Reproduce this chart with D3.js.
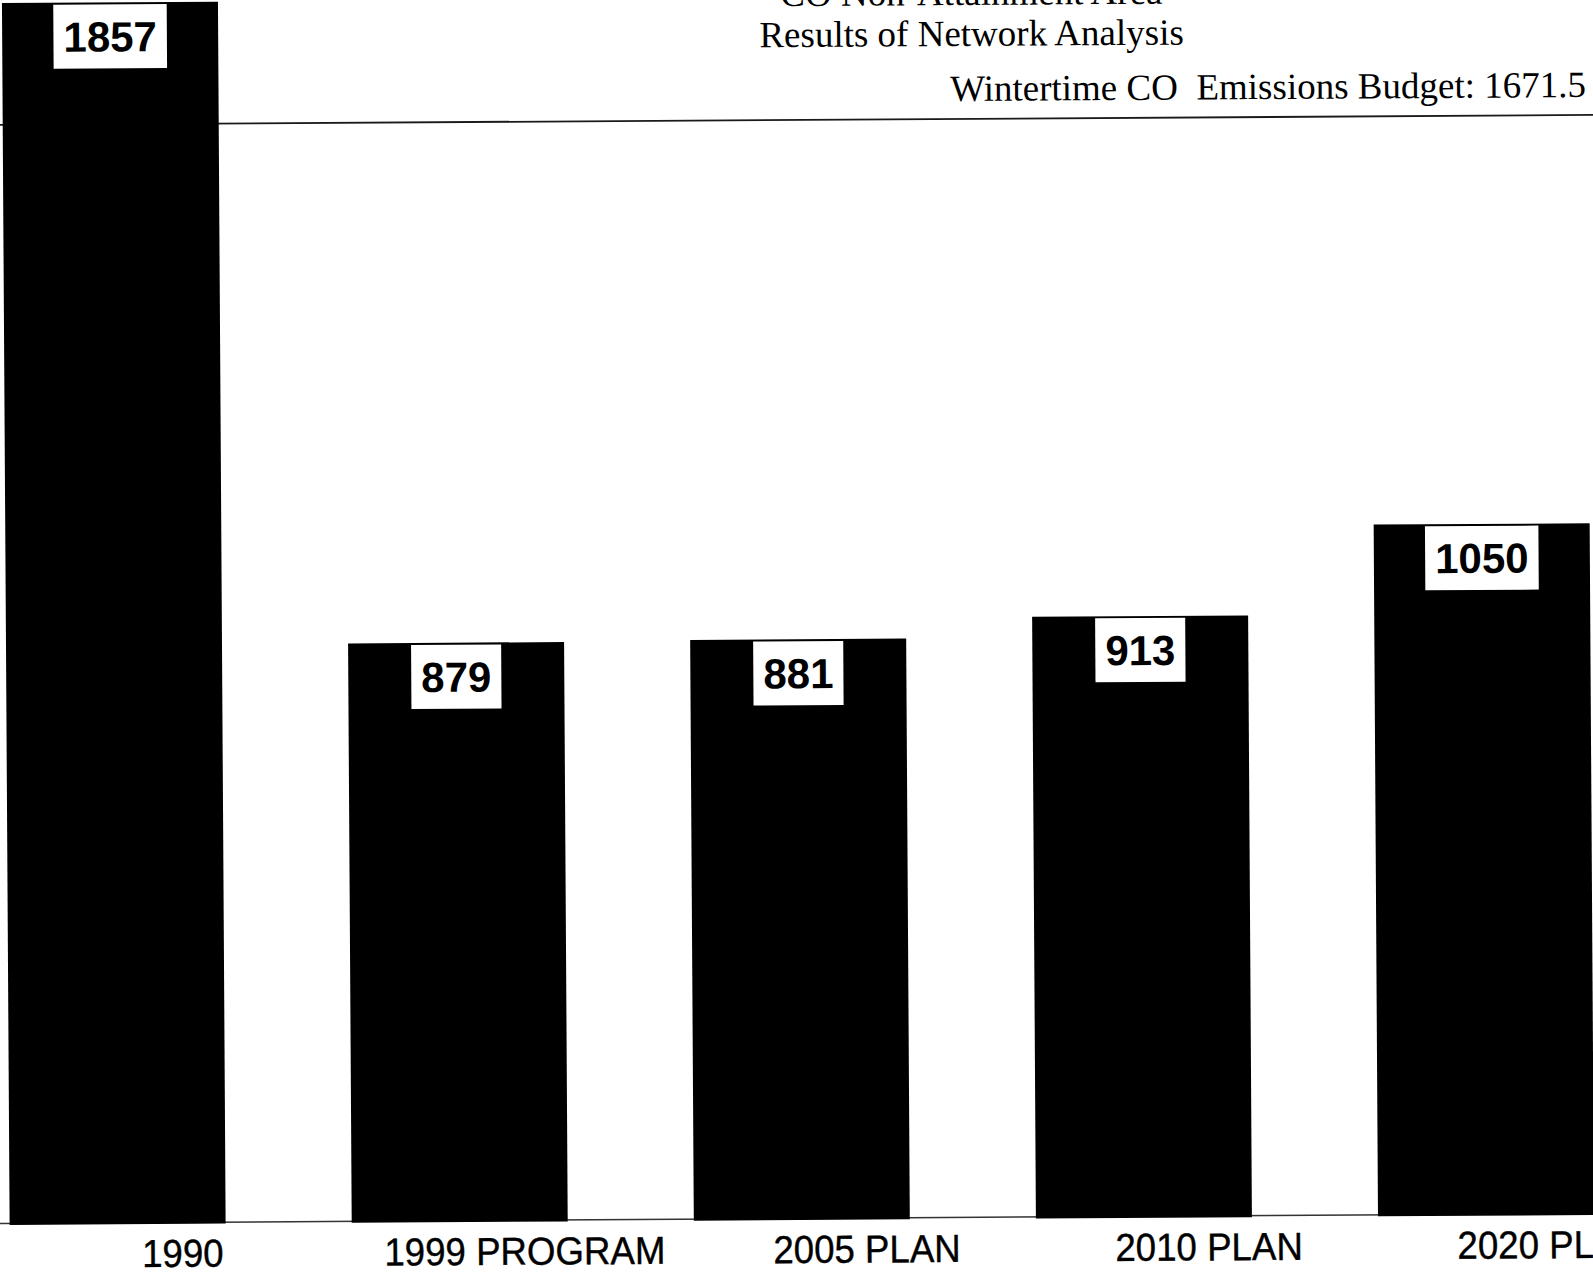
<!DOCTYPE html>
<html>
<head>
<meta charset="utf-8">
<script src="https://cdn.jsdelivr.net/npm/d3@7"></script>
<style>
  html, body { margin: 0; padding: 0; background: #fff; overflow: hidden; }
  svg { display: block; }
</style>
</head>
<body>
<svg id="chart" width="1593" height="1277"></svg>
<script>
// Wintertime CO emissions by scenario
const categories = ["1990", "1999 PROGRAM", "2005 PLAN", "2010 PLAN", "2020 PLAN"];
const emissions = [1857, 879, 881, 913, 1050];
const budgetValue = 1671.5;
const titleLines = ["CO Non-Attainment Area", "Results of Network Analysis"];
const budgetLabel = "Wintertime CO  Emissions Budget: 1671.5";

const W = 1593, H = 1277;
const baseY = 1218;

const svg = d3.select("#chart");
svg.append("rect").attr("width", W).attr("height", H).attr("fill", "#fff");

// the printed page sits slightly askew
const root = svg.append("g").attr("transform", `rotate(-0.36, 796, ${baseY})`);

const x = d3.scaleBand()
  .domain(categories)
  .range([9.6, 1594])
  .paddingInner(0.3686)
  .paddingOuter(0);

const y = d3.scaleLinear()
  .domain([0, 1000])
  .range([baseY, baseY - 656.9]);

const data = categories.map((c, i) => ({ cat: c, value: emissions[i] }));

// titles
const serif = "'Liberation Serif', 'Times New Roman', Times, serif";
root.selectAll("text.title")
  .data(titleLines)
  .join("text")
  .attr("class", "title")
  .attr("x", 979)
  .attr("y", (d, i) => 6 + i * 41)
  .attr("text-anchor", "middle")
  .attr("font-family", serif)
  .attr("font-size", 37)
  .attr("fill", "#000")
  .text(d => d);

// emissions budget reference line
const budgetY = y(budgetValue);
root.append("line")
  .attr("x1", 0).attr("x2", W + 20)
  .attr("y1", budgetY).attr("y2", budgetY)
  .attr("stroke", "#1a1a1a")
  .attr("stroke-width", 1.8);

root.append("text")
  .attr("x", 1593)
  .attr("y", budgetY - 18)
  .attr("text-anchor", "end")
  .attr("font-family", serif)
  .attr("font-size", 37)
  .attr("fill", "#000")
  .style("white-space", "pre")
  .attr("xml:space", "preserve")
  .text(budgetLabel);

// baseline
root.append("line")
  .attr("x1", 0).attr("x2", W + 20)
  .attr("y1", baseY + 0.5).attr("y2", baseY + 0.5)
  .attr("stroke", "#333")
  .attr("stroke-width", 1.5);

// bars
root.selectAll("rect.bar")
  .data(data)
  .join("rect")
  .attr("class", "bar")
  .attr("x", d => x(d.cat))
  .attr("width", x.bandwidth())
  .attr("y", d => y(d.value))
  .attr("height", d => y(0) - y(d.value) + 2)
  .attr("fill", "#000");

// value labels in white boxes
const sans = "'Liberation Sans', Arial, Helvetica, sans-serif";
const valueG = root.selectAll("g.val")
  .data(data)
  .join("g")
  .attr("class", "val")
  .attr("transform", d => `translate(${x(d.cat) + x.bandwidth() / 2}, ${y(d.value) + 2})`);

valueG.append("rect").attr("fill", "#fff");
const valueTexts = valueG.append("text")
  .attr("text-anchor", "middle")
  .attr("y", 47)
  .attr("font-family", sans)
  .attr("font-weight", "bold")
  .attr("font-size", 42)
  .attr("fill", "#000")
  .text(d => d3.format("d")(d.value));

valueTexts.each(function () {
  const w = this.getComputedTextLength() + 20;
  d3.select(this.previousSibling)
    .attr("x", -w / 2)
    .attr("width", w)
    .attr("y", 0)
    .attr("height", 64);
});

// category axis
const axis = root.append("g")
  .attr("transform", `translate(0, ${baseY})`)
  .call(d3.axisBottom(x).tickSize(0).tickPadding(0));
axis.select(".domain").remove();
axis.selectAll(".tick text")
  .attr("y", 45)
  .attr("dy", null)
  .attr("transform", "translate(65,0) scale(0.94,1)")
  .attr("font-family", sans)
  .attr("font-size", 39)
  .attr("stroke", "#000")
  .attr("stroke-width", 0.4)
  .attr("fill", "#000");
</script>
</body>
</html>
